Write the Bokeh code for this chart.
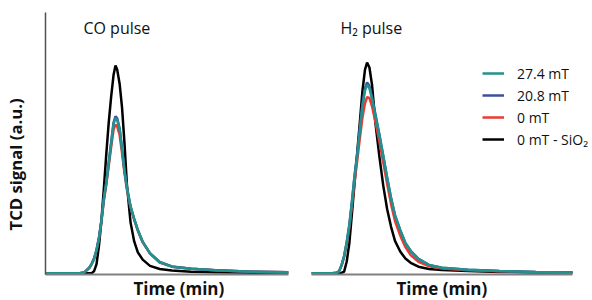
from bokeh.plotting import figure
from bokeh.layouts import row
from bokeh.models import Range1d, Label, Title, Legend, LegendItem, FixedTicker
from bokeh.embed import file_html
from bokeh.resources import INLINE

# ---------------- data (arbitrary units) ----------------
co_time = [0, 1.4, 1.6, 1.8, 1.9, 2.0, 2.1, 2.2, 2.3, 2.4, 2.5, 2.6, 2.7, 2.8, 2.88,
           2.95, 3.05, 3.15, 3.25, 3.35, 3.5, 3.65, 3.8, 4.0, 4.3, 4.7, 5.2, 6.0, 7.0, 8.5, 10.0]
co_sio2 = [0, 0, 0, 0, 0, 0.008, 0.035, 0.105, 0.200, 0.323, 0.455, 0.576, 0.675, 0.760, 0.797,
           0.781, 0.727, 0.635, 0.500, 0.340, 0.195, 0.122, 0.080, 0.052, 0.028, 0.016, 0.010, 0.006, 0.004, 0.002, 0.001]
co_0mt = [0, 0, 0.003, 0.020, 0.035, 0.055, 0.088, 0.133, 0.196, 0.277, 0.338, 0.410, 0.483, 0.550, 0.570,
          0.563, 0.530, 0.462, 0.385, 0.322, 0.252, 0.205, 0.163, 0.118, 0.075, 0.041, 0.025, 0.017, 0.011, 0.006, 0.004]
co_208mt = [0, 0, 0.003, 0.021, 0.036, 0.057, 0.090, 0.137, 0.202, 0.286, 0.348, 0.424, 0.500, 0.578, 0.602,
            0.594, 0.556, 0.478, 0.394, 0.330, 0.256, 0.208, 0.166, 0.121, 0.077, 0.043, 0.026, 0.017, 0.011, 0.006, 0.004]
co_274mt = [0, 0, 0.003, 0.020, 0.035, 0.055, 0.088, 0.135, 0.200, 0.283, 0.345, 0.420, 0.495, 0.572, 0.595,
            0.588, 0.552, 0.475, 0.392, 0.328, 0.255, 0.207, 0.165, 0.120, 0.076, 0.042, 0.025, 0.017, 0.011, 0.006, 0.004]

h2_time = [0, 0.8, 0.95, 1.05, 1.15, 1.25, 1.35, 1.45, 1.55, 1.65, 1.75, 1.85, 1.95, 2.05, 2.13,
           2.22, 2.32, 2.45, 2.6, 2.75, 2.9, 3.05, 3.2, 3.4, 3.6, 3.8, 4.1, 4.5, 5.0, 6.0, 7.2, 8.6, 10.0]
h2_sio2 = [0, 0, 0, 0, 0.001, 0.006, 0.045, 0.115, 0.228, 0.345, 0.460, 0.576, 0.697, 0.781, 0.808,
           0.789, 0.722, 0.576, 0.449, 0.336, 0.245, 0.178, 0.124, 0.083, 0.056, 0.040, 0.025, 0.016, 0.012, 0.008, 0.005, 0.003, 0.002]
h2_0mt = [0, 0, 0.002, 0.007, 0.028, 0.062, 0.112, 0.175, 0.260, 0.350, 0.430, 0.515, 0.595, 0.652, 0.675,
          0.672, 0.640, 0.580, 0.505, 0.425, 0.342, 0.265, 0.200, 0.145, 0.100, 0.070, 0.044, 0.027, 0.018, 0.011, 0.007, 0.004, 0.003]
h2_208mt = [0, 0, 0.002, 0.006, 0.030, 0.066, 0.120, 0.185, 0.276, 0.375, 0.455, 0.552, 0.648, 0.710, 0.732,
            0.718, 0.675, 0.610, 0.533, 0.451, 0.366, 0.288, 0.223, 0.166, 0.116, 0.086, 0.055, 0.032, 0.021, 0.013, 0.008, 0.005, 0.003]
h2_274mt = [0, 0, 0.002, 0.006, 0.030, 0.065, 0.118, 0.182, 0.272, 0.370, 0.449, 0.545, 0.640, 0.700, 0.723,
            0.710, 0.668, 0.605, 0.530, 0.449, 0.365, 0.287, 0.222, 0.165, 0.115, 0.085, 0.055, 0.032, 0.021, 0.013, 0.008, 0.005, 0.003]

series_labels = ["27.4 mT", "20.8 mT", "0 mT", "0 mT - SiO\u2082"]
series_colors = ["#23918d", "#3c4fa0", "#ee3a30", "#000000"]
panel_titles = ["CO pulse", "H\u2082 pulse"]
x_label = "Time (min)"
y_label = "TCD signal (a.u.)"

FONT = "Open Sans"
H = 300


def make_fig(width, left, right, x_end, label_offset):
    p = figure(width=width, height=H, output_backend="svg", toolbar_location=None,
               x_range=Range1d(0, x_end), y_range=Range1d(-0.005, 1.0),
               min_border_left=left, min_border_right=right,
               min_border_top=12, min_border_bottom=26)
    p.title.visible = False
    p.grid.visible = False
    p.outline_line_color = None
    p.background_fill_color = None
    p.border_fill_color = None
    for ax in (p.xaxis[0], p.yaxis[0]):
        ax.ticker = FixedTicker(ticks=[])
        ax.major_tick_line_color = None
        ax.minor_tick_line_color = None
        ax.major_tick_out = 0
        ax.major_tick_in = 0
        ax.minor_tick_out = 0
        ax.minor_tick_in = 0
        ax.major_label_text_font_size = "0px"
        ax.major_label_standoff = 0
    p.xaxis.axis_line_color = "#808080"
    p.xaxis.axis_line_width = 2
    p.xaxis.bounds = (0, 10)
    p.add_layout(Title(text=x_label, align="left", offset=label_offset,
                       text_font=FONT, text_font_size="17px", text_font_style="bold",
                       text_color="#111111", standoff=0), "below")
    return p


def draw(p, t, sio2, m0, m208, m274):
    rs = {}
    rs["sio2"] = p.line(t, sio2, line_color=series_colors[3], line_width=2.5)
    rs["m0"] = p.line(t, m0, line_color=series_colors[2], line_width=2.5)
    rs["m208"] = p.line(t, m208, line_color=series_colors[1], line_width=2.5)
    rs["m274"] = p.line(t, m274, line_color=series_colors[0], line_width=2.5)
    return rs


# left panel (CO) -- shifted 13px left so that its wide left border holds the y title
p1 = make_fig(313, 58, 12, 10.0, 88)
p1.margin = (0, 0, 0, -13)
p1.yaxis.axis_line_color = "#505050"
p1.yaxis.axis_line_width = 1.5
p1.add_layout(Title(text=y_label, align="left", offset=44, vertical_align="top", standoff=33,
                    text_font=FONT, text_font_size="16.7px", text_font_style="bold",
                    text_color="#111111"), "left")
draw(p1, co_time, co_sio2, co_0mt, co_208mt, co_274mt)
p1.add_layout(Label(x=1.56, y=0.94, text=panel_titles[0], text_font=FONT, text_font_size="16px",
                    text_baseline="middle", text_align="left", text_color="#111111"))

# right panel (H2)
p2 = make_fig(292, 11, 0, 10.77, 85)
p2.yaxis.visible = False
r2 = draw(p2, h2_time, h2_sio2, h2_0mt, h2_208mt, h2_274mt)
p2.add_layout(Label(x=1.11, y=0.94, text=panel_titles[1], text_font=FONT, text_font_size="16px",
                    text_baseline="middle", text_align="left", text_color="#111111"))

legend = Legend(items=[
    LegendItem(label=series_labels[0], renderers=[r2["m274"]]),
    LegendItem(label=series_labels[1], renderers=[r2["m208"]]),
    LegendItem(label=series_labels[2], renderers=[r2["m0"]]),
    LegendItem(label=series_labels[3], renderers=[r2["sio2"]]),
], location=(171, 125), border_line_color=None, background_fill_alpha=0,
    padding=0, margin=0, spacing=2, glyph_width=22, glyph_height=20, label_height=20,
    label_standoff=13, label_text_font=FONT, label_text_font_size="14px", label_text_color="#111111")
p2.add_layout(legend)

layout = row(p1, p2)
open("out.html", "w").write(file_html(layout, INLINE))
